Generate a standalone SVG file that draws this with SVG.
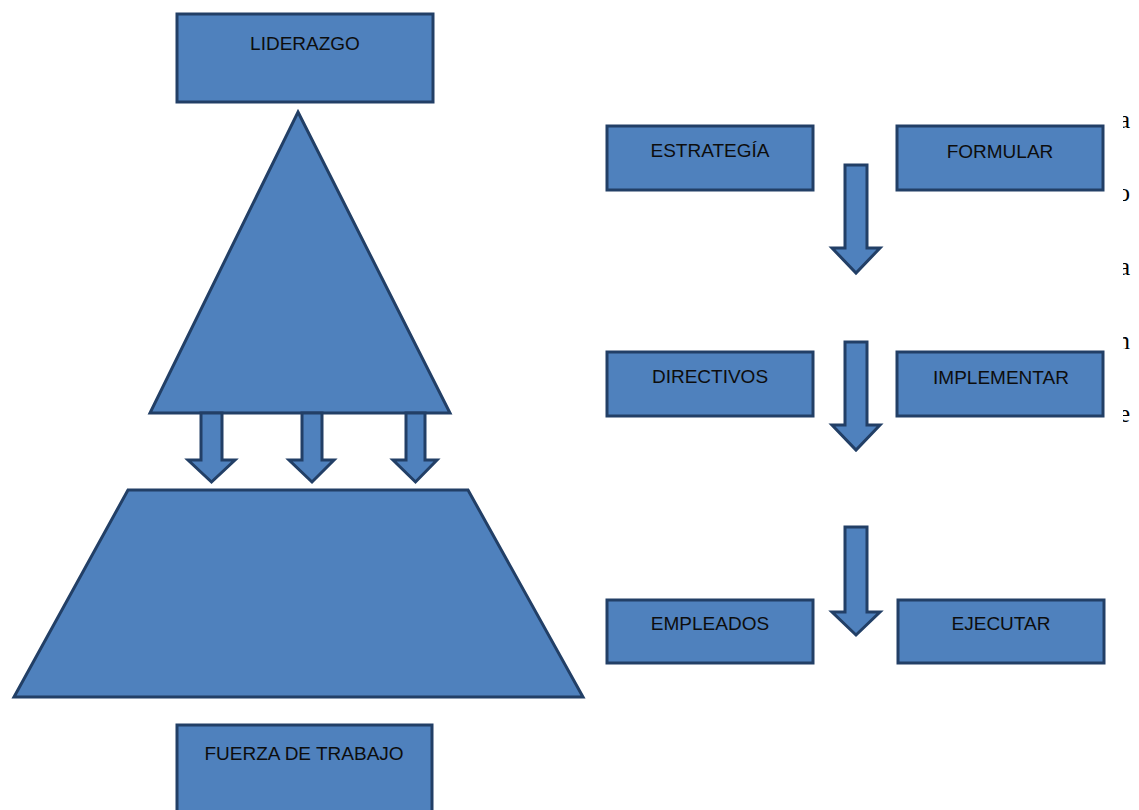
<svg xmlns="http://www.w3.org/2000/svg" width="1139" height="810" viewBox="0 0 1139 810">
  <defs>
    <style>
      .shape { fill: #4F81BD; stroke: #223F66; stroke-width: 3; stroke-linejoin: miter; }
      .label { font-family: "Liberation Sans", Arial, sans-serif; font-size: 19px; fill: #0d0d0d; text-anchor: middle; }
      .edge { font-family: "Liberation Serif", "Times New Roman", serif; font-size: 25px; fill: #000000; text-anchor: end; }
    </style>
    <clipPath id="rightEdge">
      <rect x="1123" y="0" width="16" height="810"/>
    </clipPath>
  </defs>

  <rect width="1139" height="810" fill="#ffffff"/>

  <!-- pyramid: leadership triangle and workforce trapezoid -->
  <g id="lider-triangle">
    <polygon class="shape" points="298,112 450,413 150,413"/>
  </g>
  <g id="fuerza-trapecio">
    <polygon class="shape" points="128,490 468,490 583,697 14,697"/>
  </g>

  <g id="connectors">
    <!-- triangle to trapezoid -->
    <polygon class="shape" points="201,413 222,413 222,460 235,460 211.5,482 188,460 201,460"/>
    <polygon class="shape" points="302,413 322,413 322,460 334,460 312,482 289,460 302,460"/>
    <polygon class="shape" points="406,413 425,413 425,460 437,460 415.5,482 393,460 406,460"/>
    <!-- right column flow -->
    <polygon class="shape" points="845,165 867,165 867,248 880,248 856,273 832,248 845,248"/>
    <polygon class="shape" points="845,342 867,342 867,425 880,425 856,450 832,425 845,425"/>
    <polygon class="shape" points="845,527 867,527 867,612 880,612 856,635 832,612 845,612"/>
  </g>

  <g id="liderazgo">
    <rect class="shape" x="177" y="14" width="256" height="88"/>
    <text class="label" x="305" y="50">LIDERAZGO</text>
  </g>
  <g id="fuerza-de-trabajo">
    <rect class="shape" x="177" y="725" width="255" height="95"/>
    <text class="label" x="304" y="760">FUERZA DE TRABAJO</text>
  </g>

  <g id="estrategia">
    <rect class="shape" x="607" y="126" width="206" height="64"/>
    <text class="label" x="710" y="157">ESTRATEGÍA</text>
  </g>
  <g id="formular">
    <rect class="shape" x="897" y="126" width="206" height="64"/>
    <text class="label" x="1000" y="158">FORMULAR</text>
  </g>
  <g id="directivos">
    <rect class="shape" x="607" y="352" width="206" height="64"/>
    <text class="label" x="710" y="383">DIRECTIVOS</text>
  </g>
  <g id="implementar">
    <rect class="shape" x="897" y="352" width="206" height="64"/>
    <text class="label" x="1001" y="384">IMPLEMENTAR</text>
  </g>
  <g id="empleados">
    <rect class="shape" x="607" y="600" width="206" height="63"/>
    <text class="label" x="710" y="630">EMPLEADOS</text>
  </g>
  <g id="ejecutar">
    <rect class="shape" x="898" y="600" width="206" height="63"/>
    <text class="label" x="1001" y="630">EJECUTAR</text>
  </g>

  <!-- body text cut off at the right margin -->
  <g id="margin-text" clip-path="url(#rightEdge)">
    <text class="edge" x="1130" y="128">a</text>
    <text class="edge" x="1130" y="201">o</text>
    <text class="edge" x="1130" y="275">a</text>
    <text class="edge" x="1130" y="349">n</text>
    <text class="edge" x="1130" y="422">e</text>
  </g>
</svg>
